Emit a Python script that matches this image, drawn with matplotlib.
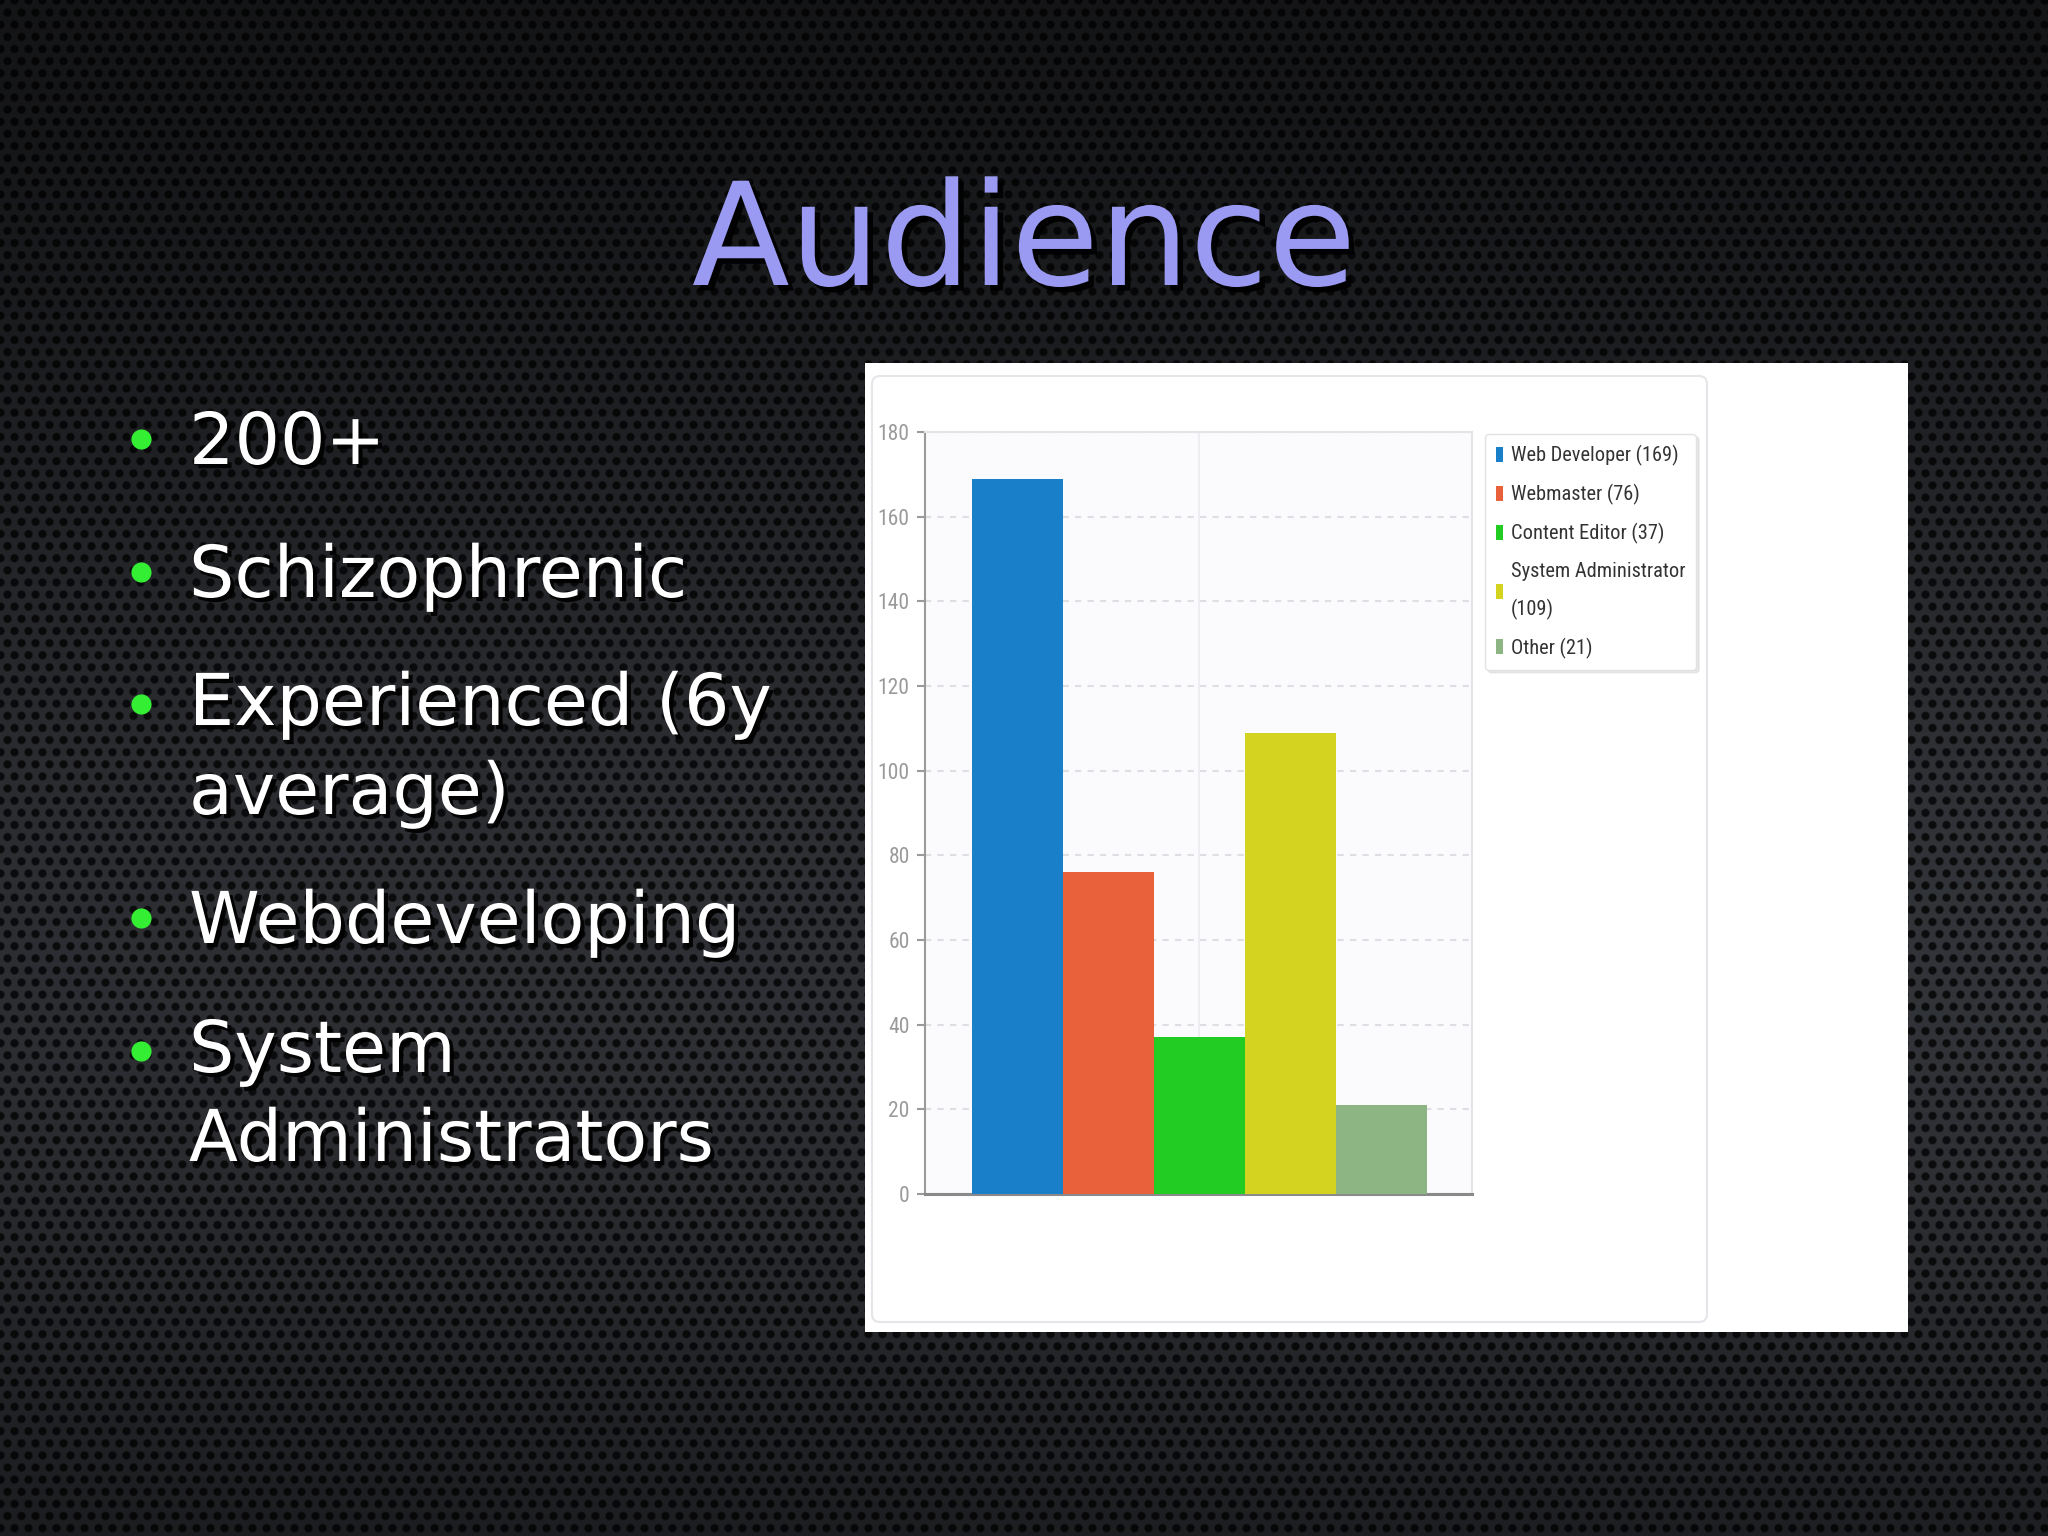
import numpy as np
import matplotlib
matplotlib.use("Agg")
import matplotlib.pyplot as plt
from matplotlib import font_manager as fm
from matplotlib import patheffects as pe
from matplotlib.patches import Rectangle, FancyBboxPatch
from matplotlib.textpath import TextPath

# ---------------- data ----------------
title = "Audience"
bullets = ["200+", "Schizophrenic", "Experienced (6y\naverage)", "Webdeveloping",
           "System\nAdministrators"]
categories = ["Web Developer", "Webmaster", "Content Editor", "System Administrator", "Other"]
counts = [169, 76, 37, 109, 21]
bar_colors = ["#1a7fc9", "#e8613a", "#22cc22", "#d4d420", "#8db584"]
yticks = [0, 20, 40, 60, 80, 100, 120, 140, 160, 180]

W, H = 2048, 1536
fig = plt.figure(figsize=(W / 100, H / 100), dpi=100)

# ---------------- background texture ----------------
bg = fig.add_axes([0, 0, 1, 1], zorder=0)
yy, xx = np.mgrid[0:H, 0:W].astype(float)
s = 14.0
kmag = 4 * np.pi / (s * np.sqrt(3))
f = np.zeros_like(xx)
for ang in (np.pi / 2, np.pi / 2 + 2 * np.pi / 3, np.pi / 2 + 4 * np.pi / 3):
    f += np.cos(kmag * (np.cos(ang) * xx + np.sin(ang) * yy))
holes = np.clip((f + 0.2) / 1.4, 0, 1)
v = yy / H
u = xx / W
base = 0.075 + 0.12 * np.exp(-((v - 0.62) / 0.38) ** 2) * (0.9 + 0.2 * u)
lum = base * (1 - 0.75 * holes)
img = np.dstack([lum * 0.94, lum * 0.98, lum * 1.07])
img = np.clip(img, 0, 1)
bg.imshow(img, extent=[0, W, H, 0], aspect="auto", interpolation="antialiased", zorder=0)
bg.set_xlim(0, W)
bg.set_ylim(H, 0)
bg.axis("off")

shadow_big = [pe.withSimplePatchShadow(offset=(4, -4), shadow_rgbFace="black", alpha=0.9)]
shadow = [pe.withSimplePatchShadow(offset=(3, -3), shadow_rgbFace="black", alpha=0.9)]

# title
bg.text(1024, 285, title, ha="center", va="baseline", fontsize=103,
        color="#9a9af2", family="DejaVu Sans", path_effects=shadow_big, zorder=3)

# bullets (anchor = baseline of the last line; dot beside the first line)
line_pitch = 85
first_baselines = [464, 597, 729, 943, 1076]
for txt, yb in zip(bullets, first_baselines):
    nlines = txt.count("\n") + 1
    bg.text(189, yb + (nlines - 1) * line_pitch, txt, ha="left", va="baseline",
            fontsize=51.5, color="white", family="DejaVu Sans", linespacing=1.37,
            path_effects=shadow, zorder=3)
    bg.plot([141], [yb - 25], "o", ms=14.5, color="#33ee33", mec="none", zorder=3)

# white chart panel
bg.add_patch(Rectangle((865, 363), 1043, 969, facecolor="white", edgecolor="none", zorder=1))
bg.add_patch(FancyBboxPatch((872, 376), 835, 946, boxstyle="round,pad=0,rounding_size=8",
                            facecolor="white", edgecolor="#e6e6ea", lw=1.5, zorder=1))

# ---------------- fonts for chart ----------------
def find_condensed():
    prefs = ["Roboto Condensed", "Liberation Sans Narrow", "DejaVu Sans", "Noto Sans",
             "Open Sans", "Roboto", "Lato", "Inter"]
    tl = fm.fontManager.ttflist
    for p in prefs:
        for fe in tl:
            if (fe.name == p and str(fe.stretch) in ("condensed", "semi-condensed", "extra-condensed")
                    and fe.style == "normal" and fe.weight in (400, "normal", "regular", "book")):
                return fe.fname
    for p in ["Roboto Condensed", "Liberation Sans Narrow"]:
        for fe in tl:
            if fe.name == p and fe.style == "normal" and fe.weight in (400, "normal", "regular"):
                return fe.fname
    return None

cf = find_condensed()
if cf:
    fp_base = fm.FontProperties(fname=cf)
else:
    fp_base = fm.FontProperties(family="DejaVu Sans")

def fit_size(text, target_px, cap):
    w = TextPath((0, 0), text, size=10, prop=fp_base).get_extents().width
    sz = (target_px * 0.72) / (w / 10)
    return min(sz, cap)

leg_fs = fit_size("Web Developer (169)", 166, 20)
tick_fs = fit_size("180", 29, 18)

# ---------------- chart ----------------
left, right = 925 / W, 1472 / W
bottom, top = 1 - 1194 / H, 1 - 432 / H
ax = fig.add_axes([left, bottom, right - left, top - bottom], zorder=2)
ax.set_facecolor("#fbfbfd")

x = np.arange(len(counts))
labels = [f"{c}\n({n})" if len(c) > 15 else f"{c} ({n})" for c, n in zip(categories, counts)]
for xi, n, col, lab in zip(x, counts, bar_colors, labels):
    ax.bar(xi, n, width=1.0, color=col, label=lab, zorder=3, edgecolor="none")

ax.set_xlim(-1.02, 5.0)
ax.set_ylim(0, 180)
ax.set_yticks(yticks)
ax.set_xticks([2])
ax.set_xticklabels([""])
ax.tick_params(axis="x", length=0)
ax.tick_params(axis="y", length=6, width=1.5, color="#9a9a9a", labelcolor="#9a9a9a", pad=5)
for t in ax.get_yticklabels():
    t.set_fontproperties(fp_base)
    t.set_fontsize(tick_fs)
ax.grid(axis="y", color="#dedee4", linestyle=(0, (3, 3)), lw=1.5, zorder=1)
ax.grid(axis="x", color="#ececf0", linestyle="-", lw=1.2, zorder=1)
ax.set_axisbelow(True)
for sp in ("top", "right"):
    ax.spines[sp].set_color("#e4e4e8")
    ax.spines[sp].set_linewidth(1.5)
ax.spines["left"].set_color("#9a9a9a")
ax.spines["left"].set_linewidth(1.5)
ax.spines["bottom"].set_color("#8a8a8a")
ax.spines["bottom"].set_linewidth(2.2)

lp = fp_base.copy()
lp.set_size(leg_fs)
leg = ax.legend(loc="upper left", bbox_to_anchor=(1485 / W, 1 - 434 / H),
                bbox_transform=fig.transFigure, borderaxespad=0, prop=lp,
                frameon=True, fancybox=True, framealpha=1, edgecolor="#e2e2e6",
                handlelength=0.35, handleheight=0.75, handletextpad=0.35,
                borderpad=0.55, labelspacing=0.87,
                shadow={"color": "0.85", "alpha": 0.6, "ox": 2, "oy": -2})
for t in leg.get_texts():
    t.set_color("#333333")
    t.set_linespacing(2.1)

fig.savefig("out.png", dpi=100)
